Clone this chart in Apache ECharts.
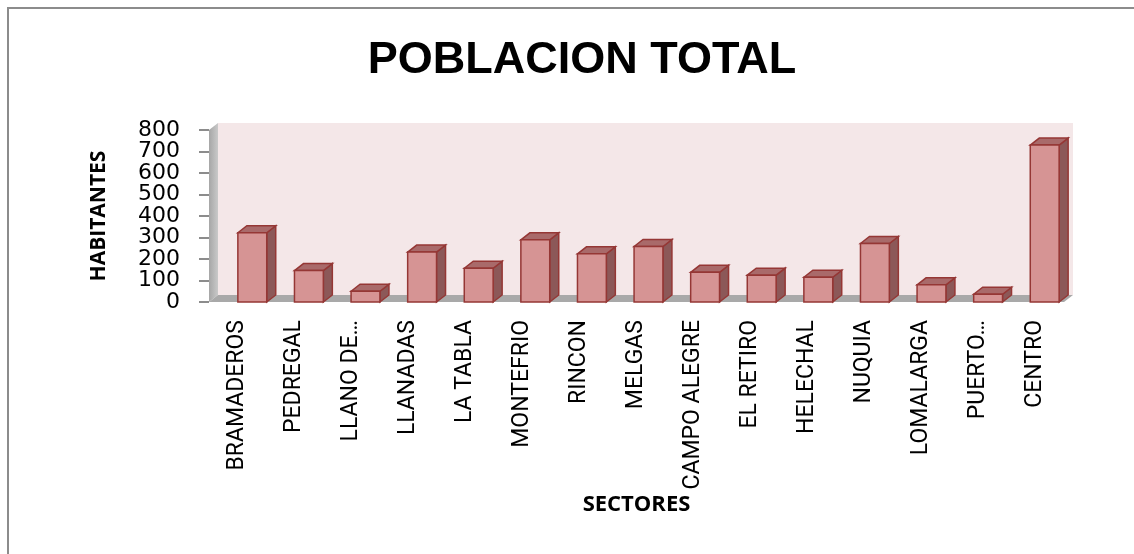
<!DOCTYPE html>
<html>
<head>
<meta charset="utf-8">
<title>POBLACION TOTAL</title>
<script src="https://cdn.jsdelivr.net/npm/echarts@6/dist/echarts.min.js"></script>
<style>
  html, body { margin: 0; padding: 0; background: #fff; }
  #main { width: 1134px; height: 554px; }
</style>
</head>
<body>
<div id="main"></div>
<script>
var sectores = ['BRAMADEROS', 'PEDREGAL', 'LLANO DE…', 'LLANADAS', 'LA TABLA', 'MONTEFRIO', 'RINCON',
  'MELGAS', 'CAMPO ALEGRE', 'EL RETIRO', 'HELECHAL', 'NUQUIA', 'LOMALARGA', 'PUERTO…', 'CENTRO'];
var habitantes = [322, 146, 50, 232, 157, 289, 224, 258, 138, 125, 115, 272, 80, 36, 730];
var yLabels = [0, 100, 200, 300, 400, 500, 600, 700, 800];

// profundidad del efecto 3D
var DX = 9, DY = 7;

function renderBar(params, api) {
  var i = api.value(0), v = api.value(1);
  var top = api.coord([i, v]);
  var base = api.coord([i, 0]);
  var w = api.size([1, 0])[0] * 0.51;
  var x0 = top[0] - w / 2, x1 = top[0] + w / 2;
  var yT = top[1], yB = base[1];
  var line = { stroke: '#953735', lineWidth: 1.5 };
  return {
    type: 'group',
    children: [{
      type: 'polygon',
      shape: { points: [[x1, yB], [x1 + DX, yB - DY], [x1 + DX, yT - DY], [x1, yT]] },
      style: Object.assign({ fill: '#8c5858' }, line)
    }, {
      type: 'polygon',
      shape: { points: [[x0, yT], [x0 + DX, yT - DY], [x1 + DX, yT - DY], [x1, yT]] },
      style: Object.assign({ fill: '#a96a6a' }, line)
    }, {
      type: 'rect',
      shape: { x: x0, y: yT, width: w, height: yB - yT },
      style: Object.assign({ fill: '#d69494' }, line)
    }]
  };
}

function renderWalls(params, api) {
  var c = params.coordSys;
  var l = c.x, r = c.x + c.width, t = c.y, b = c.y + c.height;
  return {
    type: 'group',
    children: [{
      type: 'rect',
      shape: { x: l + DX, y: t - DY, width: r - l, height: b - t },
      style: { fill: '#f4e7e8' }
    }, {
      type: 'polygon',
      shape: { points: [[l, t], [l + DX, t - DY], [l + DX, b - DY], [l, b]] },
      style: {
        fill: new echarts.graphic.LinearGradient(0, 0, 1, 0, [
          { offset: 0, color: '#a6a6a6' },
          { offset: 1, color: '#c9c9c9' }
        ])
      }
    }, {
      type: 'polygon',
      shape: { points: [[l, b], [r, b], [r + DX, b - DY], [l + DX, b - DY]] },
      style: { fill: '#a9a9a9' }
    }]
  };
}

// etiquetas del eje Y (las del eje se ocultan por solaparse)
function renderYLabel(params, api) {
  var v = api.value(1);
  var p = api.coord([0, v]);
  return {
    type: 'text',
    x: params.coordSys.x - 29,
    y: p[1],
    style: {
      text: String(v),
      align: 'right',
      verticalAlign: 'middle',
      fontFamily: 'DejaVu Sans',
      fontSize: 22,
      fill: '#000'
    }
  };
}

var myChart = echarts.init(document.getElementById('main'));
myChart.setOption({
  animation: false,
  backgroundColor: '#fff',
  title: {
    text: 'POBLACION TOTAL',
    left: 577,
    top: 33,
    textAlign: 'center',
    textStyle: {
      fontFamily: 'Liberation Sans',
      fontWeight: 'bold',
      fontSize: 45,
      color: '#000'
    }
  },
  graphic: [{
    type: 'rect',
    shape: { x: 8, y: 8, width: 1140, height: 560 },
    style: { fill: null, stroke: '#8c8c8c', lineWidth: 2 },
    silent: true
  }],
  grid: [
    { left: 224, right: 61, top: 130, bottom: 252 },
    { left: 209, right: 70, top: 130, bottom: 252 }
  ],
  xAxis: [{
    type: 'category',
    gridIndex: 0,
    data: sectores,
    axisLine: { show: false },
    axisTick: { show: false },
    axisLabel: { show: false }
  }, {
    type: 'category',
    gridIndex: 1,
    data: sectores,
    name: 'SECTORES',
    nameLocation: 'middle',
    nameGap: 189,
    nameTextStyle: {
      fontFamily: 'Open Sans',
      fontWeight: 'bold',
      fontSize: 22,
      color: '#000'
    },
    axisLine: { show: false },
    axisTick: { show: false },
    axisLabel: {
      rotate: 90,
      margin: 18,
      interval: 0,
      fontFamily: 'Roboto',
      fontSize: 23,
      color: '#000'
    }
  }],
  yAxis: [{
    type: 'value',
    gridIndex: 0,
    min: 0,
    max: 800,
    interval: 100,
    show: false
  }, {
    type: 'value',
    gridIndex: 1,
    min: 0,
    max: 800,
    interval: 100,
    name: 'HABITANTES',
    nameLocation: 'middle',
    nameGap: 99,
    nameRotate: 90,
    nameTextStyle: {
      fontFamily: 'Open Sans',
      fontWeight: 'bold',
      fontSize: 21,
      color: '#000'
    },
    axisLine: { show: false },
    axisTick: { show: true, length: 10, lineStyle: { color: '#8c8c8c', width: 2 } },
    splitLine: { show: false },
    axisLabel: { show: false }
  }],
  series: [{
    type: 'custom',
    name: 'paredes',
    xAxisIndex: 1,
    yAxisIndex: 1,
    z: 1,
    silent: true,
    renderItem: renderWalls,
    data: [[0, 0]]
  }, {
    type: 'custom',
    name: 'etiquetas',
    xAxisIndex: 1,
    yAxisIndex: 1,
    z: 3,
    silent: true,
    clip: false,
    renderItem: renderYLabel,
    data: yLabels.map(function (v) { return [0, v]; })
  }, {
    type: 'custom',
    name: 'HABITANTES',
    xAxisIndex: 0,
    yAxisIndex: 0,
    z: 2,
    renderItem: renderBar,
    encode: { x: 0, y: 1 },
    data: habitantes.map(function (v, i) { return [i, v]; })
  }]
});
window.addEventListener('resize', function () {
  myChart.resize();
});
</script>
</body>
</html>
